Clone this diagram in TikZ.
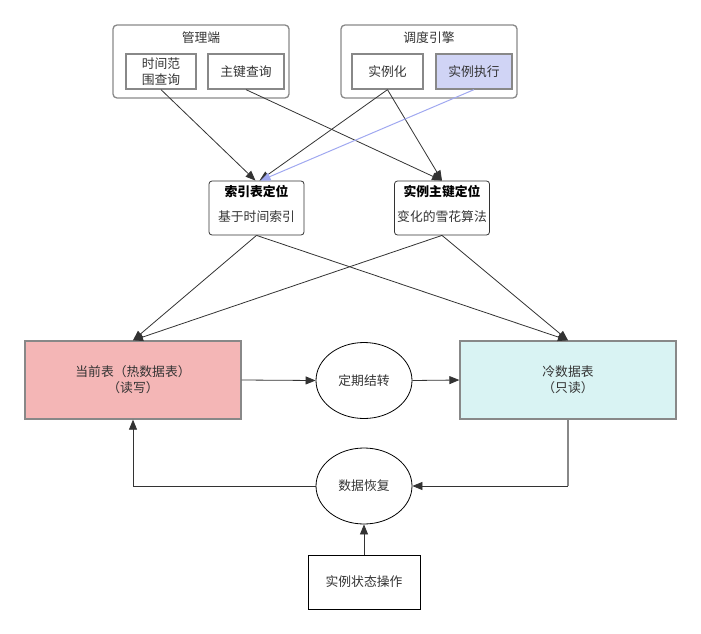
\documentclass[tikz,border=0pt]{standalone}
\usepackage{fontspec}
\setmainfont{Noto Sans CJK SC}
\usetikzlibrary{arrows.meta,shapes.geometric,calc}
\definecolor{bordergray}{HTML}{888888}
\definecolor{linedark}{HTML}{333333}
\definecolor{hotfill}{HTML}{F4B6B6}
\definecolor{coldfill}{HTML}{D9F3F3}
\definecolor{execfill}{HTML}{D0D4F5}
\definecolor{bluearrow}{HTML}{A0A8F0}
\begin{document}
\begin{tikzpicture}[x=1pt,y=-1pt,
  font=\fontsize{12.8}{16}\selectfont,
  group/.style={draw=bordergray,line width=1.3pt,rounded corners=4pt,minimum width=176pt,minimum height=73pt,inner sep=0pt},
  inbox/.style={draw=bordergray,line width=1.3pt,inner sep=0pt,align=center,text=black!80},
  locbox/.style={draw=linedark,line width=0.8pt,rounded corners=3pt,minimum width=95pt,minimum height=54pt,inner sep=0pt,align=center},
  tablebox/.style={draw=bordergray,line width=1.3pt,minimum width=216pt,minimum height=78pt,inner sep=0pt,align=center,text=black!80},
  proc/.style={draw=black,line width=0.8pt,ellipse,minimum width=96pt,minimum height=76pt,inner sep=0pt,text=black!80},
  conn/.style={draw=linedark,line width=0.8pt,-{Triangle[length=10pt,width=8pt]}},
]
\useasboundingbox (0,0) rectangle (701,634);
% top groups
\node[group] (mgr) at (201,61.5) {};
\node[text=black!80] (mgrt) at (201,38) {管理端};
\node[inbox,minimum width=70pt,minimum height=35pt] (tq) at (161,71.5) {时间范\\围查询};
\node[inbox,minimum width=76pt,minimum height=35pt] (kq) at (246,71.5) {主键查询};
\node[group] (sch) at (429,61.5) {};
\node[text=black!80] (scht) at (429,38) {调度引擎};
\node[inbox,minimum width=71pt,minimum height=35pt] (inst) at (387.5,71.5) {实例化};
\node[inbox,fill=execfill,minimum width=76pt,minimum height=35pt] (exec) at (474,71.5) {实例执行};
% locating boxes
\node[locbox] (idx) at (256.5,208) {};
\node[font=\fontsize{12.8}{16}\selectfont\bfseries] (idxt) at (256.5,192) {索引表定位};
\node[text=black!80] (idxs) at (256.5,217) {基于时间索引};
\node[locbox] (pk) at (442,208) {};
\node[font=\fontsize{12.8}{16}\selectfont\bfseries] (pkt) at (442,192) {实例主键定位};
\node[text=black!80] (pks) at (442,217) {变化的雪花算法};
% tables
\node[tablebox,fill=hotfill] (hot) at (133,380) {当前表（热数据表）\\（读写）};
\node[tablebox,fill=coldfill] (cold) at (568,380) {冷数据表\\（只读）};
\node[proc] (move) at (364,380.5) {定期结转};
\node[proc] (rec) at (364,486) {数据恢复};
\node[draw=black,line width=0.8pt,minimum width=112pt,minimum height=54pt,inner sep=0pt,text=black!80] (op) at (364,582) {实例状态操作};
% connectors top
\draw[conn] (tq.south) -- ($(idx.north)+(-1,0)$);
\draw[conn] (kq.south) -- (pk.north);
\draw[conn] (inst.south) -- ($(idx.north)+(3,0)$);
\draw[conn] (inst.south) -- (pk.north);
\draw[conn,draw=bluearrow,line width=1pt,-{Triangle[length=10pt,width=8pt,fill=bluearrow]}] (exec.south) -- ($(idx.north)+(4,0)$);
% connectors middle
\draw[conn] (idx.south) -- (hot.north);
\draw[conn] (idx.south) -- (cold.north);
\draw[conn] (pk.south) -- (hot.north);
\draw[conn] (pk.south) -- (cold.north);
% bottom
\draw[conn] (hot.east) -- (move.west);
\draw[conn] (move.east) -- (cold.east -| cold.west);
\draw[draw=bordergray,line width=1.3pt] (cold.south) -- (cold.south |- rec.east) coordinate (cb);
\draw[conn] (cb) -- (rec.east);
\draw[conn] (rec.west) -| (hot.south);
\draw[conn] (op.north) -- (rec.south);
\end{tikzpicture}
\end{document}
